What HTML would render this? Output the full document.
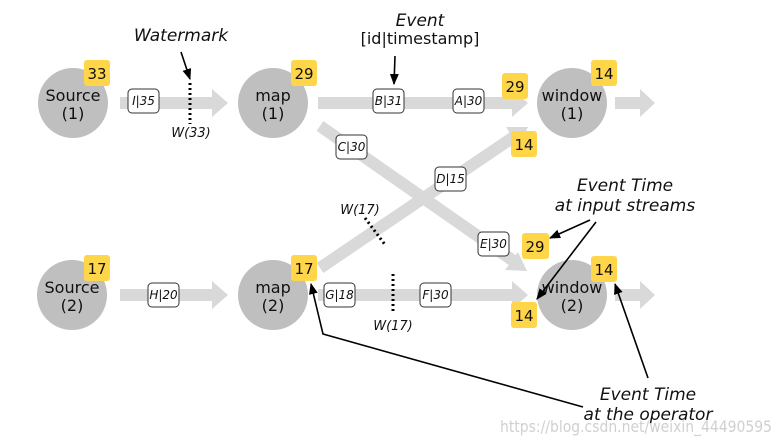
<!DOCTYPE html>
<html><head><meta charset="utf-8"><style>
html,body{margin:0;padding:0;background:#fff}
svg{display:block}
text{font-family:"DejaVu Sans","Liberation Sans",sans-serif}
.c{fill:#bfbfbf}
.n{font-size:16px;fill:#111;text-anchor:middle}
.b{fill:#ffd54a}
.bt{font-size:15px;fill:#111;text-anchor:middle}
.l{fill:#fff;stroke:#333;stroke-width:1}
.lt{font-size:12px;font-style:italic;fill:#111;text-anchor:middle}
.it{font-style:italic;fill:#111;text-anchor:middle}
.ln{stroke:#000;stroke-width:1.6;fill:none}
.g{fill:#d9d9d9}
</style></head><body>
<svg width="781" height="443" viewBox="0 0 781 443" xmlns="http://www.w3.org/2000/svg">
<defs>
<marker id="ah" viewBox="0 0 10 10" refX="9" refY="5" markerWidth="7" markerHeight="7" orient="auto"><path d="M0,1 L10,5 L0,9 z" fill="#000"/></marker>
</defs>
<g class="g">
<polygon points="120,97 212,97 212,89 228,103 212,117 212,109 120,109"/>
<polygon points="318,97 512,97 512,89 528,103 512,117 512,109 318,109"/>
<polygon points="615,97 640,97 640,89 655,103 640,117 640,109 615,109"/>
<polygon points="120,289 212,289 212,281 228,295 212,309 212,301 120,301"/>
<polygon points="318,289 512,289 512,281 528,295 512,309 512,301 318,301"/>
<polygon points="615,289 640,289 640,281 655,295 640,309 640,301 615,301"/>
</g>
<g stroke="#d9d9d9" stroke-width="12">
<line x1="320" y1="126" x2="515" y2="262"/>
<line x1="320" y1="268" x2="515" y2="136"/>
</g>
<polygon class="g" points="527,271 505,270 518,252"/>
<polygon class="g" points="528,127 506,127 518,146"/>
<circle class="c" cx="73" cy="103" r="35"/>
<circle class="c" cx="273" cy="103" r="35"/>
<circle class="c" cx="572" cy="103" r="35"/>
<circle class="c" cx="72" cy="295" r="35"/>
<circle class="c" cx="273" cy="295" r="35"/>
<circle class="c" cx="572" cy="295" r="35"/>
<text class="n" x="73" y="101">Source</text><text class="n" x="73" y="119">(1)</text>
<text class="n" x="273" y="101">map</text><text class="n" x="273" y="119">(1)</text>
<text class="n" x="572" y="101">window</text><text class="n" x="572" y="119">(1)</text>
<text class="n" x="72" y="293">Source</text><text class="n" x="72" y="311">(2)</text>
<text class="n" x="273" y="293">map</text><text class="n" x="273" y="311">(2)</text>
<text class="n" x="572" y="293">window</text><text class="n" x="572" y="311">(2)</text>
<g>
<rect class="b" x="84" y="60" width="26" height="26" rx="3"/><text class="bt" x="97" y="79">33</text>
<rect class="b" x="291" y="60" width="26" height="26" rx="3"/><text class="bt" x="304" y="79">29</text>
<rect class="b" x="502" y="73" width="26" height="26" rx="3"/><text class="bt" x="515" y="92">29</text>
<rect class="b" x="591" y="60" width="26" height="26" rx="3"/><text class="bt" x="604" y="79">14</text>
<rect class="b" x="511" y="131" width="26" height="26" rx="3"/><text class="bt" x="524" y="150">14</text>
<rect class="b" x="84" y="255" width="26" height="26" rx="3"/><text class="bt" x="97" y="274">17</text>
<rect class="b" x="291" y="255" width="26" height="26" rx="3"/><text class="bt" x="304" y="274">17</text>
<rect class="b" x="522" y="233" width="27" height="26" rx="3"/><text class="bt" x="535" y="252">29</text>
<rect class="b" x="591" y="256" width="26" height="26" rx="3"/><text class="bt" x="604" y="275">14</text>
<rect class="b" x="511" y="302" width="26" height="26" rx="3"/><text class="bt" x="524" y="321">14</text>
</g>
<g>
<rect class="l" x="128" y="89" width="31" height="24" rx="4"/><text class="lt" x="143.5" y="105">I|35</text>
<rect class="l" x="373" y="89" width="31" height="24" rx="4"/><text class="lt" x="388.5" y="105">B|31</text>
<rect class="l" x="453" y="89" width="31" height="24" rx="4"/><text class="lt" x="468.5" y="105">A|30</text>
<rect class="l" x="336" y="135" width="31" height="24" rx="4"/><text class="lt" x="351.5" y="151">C|30</text>
<rect class="l" x="435" y="167" width="31" height="24" rx="4"/><text class="lt" x="450.5" y="183">D|15</text>
<rect class="l" x="478" y="232" width="31" height="24" rx="4"/><text class="lt" x="493.5" y="248">E|30</text>
<rect class="l" x="148" y="283" width="31" height="24" rx="4"/><text class="lt" x="163.5" y="299">H|20</text>
<rect class="l" x="324" y="283" width="31" height="24" rx="4"/><text class="lt" x="339.5" y="299">G|18</text>
<rect class="l" x="420" y="283" width="31" height="24" rx="4"/><text class="lt" x="435.5" y="299">F|30</text>
</g>
<g stroke="#000" stroke-width="3" stroke-dasharray="2,3">
<line x1="190" y1="83" x2="190" y2="124"/>
<line x1="365" y1="218" x2="386" y2="246"/>
<line x1="393" y1="274" x2="393" y2="314"/>
</g>
<text class="it" x="191" y="137" font-size="13">W(33)</text>
<text class="it" x="360" y="214" font-size="13">W(17)</text>
<text class="it" x="393" y="330" font-size="13">W(17)</text>
<text class="it" x="181" y="41" font-size="17">Watermark</text>
<text class="it" x="420" y="26" font-size="17">Event</text>
<text x="420" y="44" font-size="16" text-anchor="middle" fill="#111">[id|timestamp]</text>
<text class="it" x="625" y="191" font-size="17">Event Time</text>
<text class="it" x="625" y="211" font-size="17">at input streams</text>
<text class="it" x="648" y="400" font-size="17">Event Time</text>
<text class="it" x="648" y="420" font-size="17">at the operator</text>
<line class="ln" x1="181" y1="52" x2="190" y2="79" marker-end="url(#ah)"/>
<line class="ln" x1="395" y1="56" x2="394" y2="84" marker-end="url(#ah)"/>
<line class="ln" x1="590" y1="220" x2="550" y2="238" marker-end="url(#ah)"/>
<line class="ln" x1="596" y1="222" x2="537" y2="299" marker-end="url(#ah)"/>
<polyline class="ln" points="583,407 323,334 311,284" marker-end="url(#ah)"/>
<line class="ln" x1="648" y1="378" x2="615" y2="284" marker-end="url(#ah)"/>
<text x="500" y="432" font-size="16" fill="#d0d0d0" font-family="Liberation Sans,sans-serif" textLength="272" lengthAdjust="spacingAndGlyphs">https://blog.csdn.net/weixin_44490595</text>
</svg>
</body></html>
